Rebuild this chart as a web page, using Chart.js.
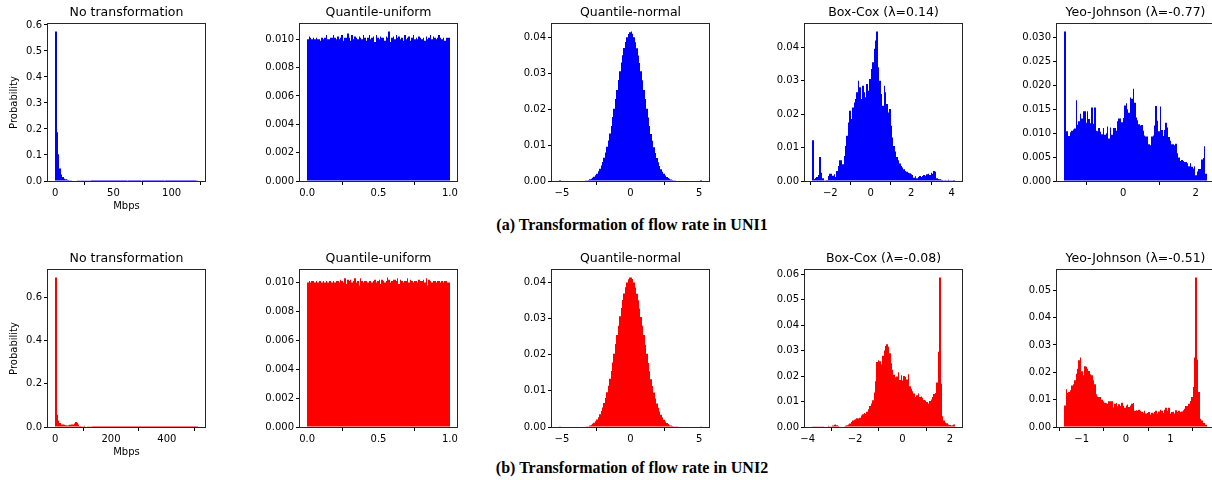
<!DOCTYPE html>
<html>
<head>
<meta charset="utf-8">
<script src="https://cdn.jsdelivr.net/npm/chart.js@4.4.0/dist/chart.umd.min.js"></script>
<style>
  html, body { margin: 0; padding: 0; background: #fff; width: 1212px; height: 480px; overflow: hidden; position: relative; }
  canvas { position: absolute; }
  .cap { position: absolute; left: 26px; width: 1212px; text-align: center; color: #000; line-height: 18px;
         font: bold 16px "Liberation Serif", "Times New Roman", serif; }
</style>
</head>
<body>
<div class="cap" style="top:216px">(a) Transformation of flow rate in UNI1</div>
<div class="cap" style="top:459px">(b) Transformation of flow rate in UNI2</div>
<script>
// histogram bin ranges [first edge, last edge], 100 bins each
const uni1RawRange = [0, 122.5];
const uni1UniformRange = [0, 1];
const uni1NormalRange = [-5.2, 5.2];
const uni1BoxCoxRange = [-2.90, 4.16];
const uni1YeoRange = [-1.63, 2.31];
const uni2RawRange = [0, 511];
const uni2UniformRange = [0, 1];
const uni2NormalRange = [-5.2, 5.2];
const uni2BoxCoxRange = [-3.81, 2.21];
const uni2YeoRange = [-1.395, 1.823];

// probabilities per bin
const uni1Raw = [
  0.575,0.187,0.103,0.048,0.025,0.015,0.009,0.007,0.005,0.004,
  0.0032,0.0027,0.0022,0.0018,0.0015,0.0013,0.0011,0.0010,0.0009,0.0008,
  0.0007,0.0006,0.0006,0.0005,0.0005,0.0004,0.0004,0.0004,0.0003,0.0003,
  0.0003,0.0003,0.0003,0.0002,0.0002,0.0002,0.0002,0.0002,0.0002,0.0002,
  0.0002,0.0002,0.0002,0.0002,0.0002,0.0002,0.0003,0.0004,0.0003,0.0002,
  0.0006,0.0003,0.0002,0.0002,0.0002,0.0002,0.0002,0.0002,0.0002,0.0002,
  0.0007,0.0003,0.0002,0.0002,0.0002,0.0002,0.0002,0.0002,0.0002,0.0002,
  0.0002,0.0002,0.0002,0.0002,0.0002,0.0002,0.0006,0.0002,0.0002,0.0002,
  0.0002,0.0002,0.0002,0.0002,0.0002,0.0002,0.0002,0.0002,0.0002,0.0002,
  0.0002,0.0002,0.0002,0.0002,0.0002,0.0002,0.0002,0.0002,0.0002,0.0008
];
const uni1Uniform = [
  0.0100,0.0102,0.0101,0.0100,0.0101,0.0100,0.0101,0.0100,0.0100,0.0099,
  0.0101,0.0100,0.0101,0.0103,0.0100,0.0100,0.0101,0.0101,0.0103,0.0101,
  0.0100,0.0102,0.0100,0.0101,0.0103,0.0099,0.0101,0.0101,0.0104,0.0101,
  0.0099,0.0103,0.0100,0.0102,0.0101,0.0100,0.0102,0.0101,0.0100,0.0103,
  0.0101,0.0099,0.0101,0.0103,0.0100,0.0101,0.0102,0.0098,0.0103,0.0101,
  0.0100,0.0102,0.0101,0.0101,0.0099,0.0102,0.0101,0.01055,0.0098,0.0101,
  0.0102,0.0100,0.0103,0.0101,0.0102,0.0100,0.0101,0.0099,0.0103,0.0100,
  0.0101,0.0102,0.0099,0.0101,0.0103,0.0100,0.0101,0.0100,0.0102,0.0101,
  0.0100,0.0101,0.0099,0.0102,0.0100,0.0101,0.0103,0.0100,0.0102,0.0101,
  0.0100,0.0101,0.0103,0.0101,0.0100,0.0101,0.0099,0.0101,0.0101,0.0101
];
const uni1Normal = [
  0.0003,0,0,0,0,0,0,0,0,0,
  0,0,0,0,0,0,0,0,0.0001,0.0002,
  0.0003,0.0005,0.0006,0.0009,0.0012,0.0016,0.0020,0.0027,0.0034,0.0043,
  0.0053,0.0065,0.0079,0.0095,0.0113,0.0132,0.0153,0.0178,0.0201,0.0228,
  0.0253,0.0281,0.0305,0.0330,0.0350,0.0370,0.0387,0.0400,0.0409,0.0414,
  0.0416,0.0410,0.0400,0.0386,0.0369,0.0349,0.0328,0.0305,0.0280,0.0253,
  0.0228,0.0201,0.0177,0.0153,0.0131,0.0112,0.0094,0.0078,0.0064,0.0052,
  0.0042,0.0033,0.0026,0.0020,0.0015,0.0011,0.0008,0.0006,0.0004,0.0003,
  0.0002,0.0001,0,0,0,0,0,0,0,0,
  0,0,0,0,0,0,0,0,0,0.0003
];
const uni1BoxCox = [
  0.0122,0.0006,0.0009,0.0012,0.0018,0.0072,0.0025,0.0008,0.0002,0.0001,
  0.0003,0.0015,0.0022,0.0022,0.0016,0.0020,0.0012,0.0030,0.0045,0.0062,
  0.0062,0.0050,0.0075,0.0105,0.0135,0.0175,0.0210,0.0185,0.0220,0.0235,
  0.0245,0.0265,0.0300,0.0280,0.0245,0.0285,0.0265,0.0250,0.0290,0.0270,
  0.0305,0.0335,0.0355,0.0395,0.0420,0.0447,0.0340,0.0300,0.0260,0.0225,
  0.0285,0.0265,0.0230,0.0205,0.0215,0.0165,0.0130,0.0105,0.0088,0.0072,
  0.0062,0.0052,0.0045,0.0040,0.0035,0.0030,0.0028,0.0025,0.0023,0.0020,
  0.0018,0.0010,0.0014,0.0008,0.0012,0.0015,0.0012,0.0015,0.0018,0.0016,
  0.0020,0.0022,0.0018,0.0025,0.0022,0.0030,0.0028,0.0008,0.0006,0.0005,
  0.0004,0.0003,0.0002,0.0003,0.0002,0.0004,0.0002,0.0001,0.0002,0.0003
];
const uni1Yeo = [
  0.0313,0.0104,0.0104,0.0094,0.0102,0.0105,0.0108,0.0110,0.0169,0.0118,
  0.0125,0.0141,0.0131,0.0146,0.0146,0.0122,0.0146,0.0130,0.0121,0.0154,
  0.0120,0.0154,0.0105,0.0104,0.0111,0.0103,0.0098,0.0111,0.0097,0.0100,
  0.0114,0.0089,0.0112,0.0097,0.0111,0.0111,0.0105,0.0125,0.0131,0.0131,
  0.0123,0.0132,0.0158,0.0163,0.0150,0.0143,0.0175,0.0172,0.0193,0.0164,
  0.0133,0.0127,0.0119,0.0116,0.0117,0.0105,0.0095,0.0093,0.0093,0.0077,
  0.0075,0.0093,0.0095,0.0116,0.0157,0.0126,0.0104,0.0156,0.0107,0.0094,
  0.0107,0.0122,0.0112,0.0092,0.0084,0.0077,0.0077,0.0075,0.0078,0.0058,
  0.0049,0.0042,0.0044,0.0042,0.0040,0.0040,0.0037,0.0031,0.0037,0.0030,
  0.0026,0.0031,0.0012,0.0020,0.0025,0.0025,0.0045,0.0048,0.0073,0.0015
];
const uni2Raw = [
  0.692,0.057,0.030,0.018,0.012,0.011,0.010,0.008,0.007,0.008,
  0.010,0.011,0.011,0.016,0.023,0.020,0.012,0.005,0.003,0.003,
  0.006,0.002,0.001,0.001,0.0008,0.0006,0.0005,0.0004,0.0004,0.0003,
  0.0003,0.0003,0.0002,0.0002,0.0002,0.0002,0.0002,0.0002,0.0001,0.0001,
  0.0001,0.0001,0.0001,0.0001,0.0001,0.0001,0.0001,0.0001,0.0001,0.0001,
  0.0001,0.0001,0.0001,0.0001,0.0001,0.0001,0.0001,0.0001,0.0001,0.0001,
  0.0001,0.0001,0.0001,0.0001,0.0001,0.0001,0.0001,0.0001,0.0001,0.0001,
  0.0001,0.0001,0.0001,0.0001,0.0001,0.0001,0.0001,0.0001,0.0001,0.0001,
  0.0001,0.0001,0.0001,0.0001,0.0001,0.0001,0.0001,0.0001,0.0001,0.0001,
  0.0001,0.0001,0.0001,0.0001,0.0001,0.0001,0.0001,0.0001,0.0001,0.0002
];
const uni2Uniform = [
  0.0100,0.0101,0.0100,0.0101,0.0101,0.0100,0.0101,0.0100,0.0101,0.0101,
  0.0100,0.0101,0.0100,0.0101,0.0100,0.0101,0.0101,0.0100,0.0101,0.0100,
  0.0101,0.0101,0.0100,0.0102,0.0101,0.0100,0.0103,0.0099,0.0102,0.0101,
  0.0102,0.0100,0.0101,0.0103,0.0100,0.0101,0.0098,0.0103,0.0101,0.0100,
  0.0101,0.0101,0.0100,0.0101,0.0101,0.0100,0.0101,0.0102,0.0100,0.0101,
  0.0102,0.0099,0.0102,0.0101,0.0100,0.0101,0.01035,0.0102,0.0100,0.0101,
  0.0102,0.0102,0.0101,0.0103,0.0099,0.0102,0.0101,0.0100,0.0101,0.0101,
  0.0103,0.0100,0.0102,0.0101,0.0100,0.0101,0.0101,0.0100,0.0102,0.0101,
  0.0101,0.0102,0.0100,0.0103,0.0098,0.0102,0.0101,0.0100,0.0101,0.0101,
  0.0100,0.0101,0.0101,0.0100,0.0101,0.0100,0.0101,0.0101,0.0100,0.0100
];
const uni2Normal = [
  0.0001,0,0,0,0,0,0,0,0,0,
  0,0,0,0,0,0,0,0,0,0.0001,
  0.0002,0.0004,0.0006,0.0009,0.0012,0.0016,0.0021,0.0027,0.0035,0.0044,
  0.0054,0.0066,0.0080,0.0096,0.0114,0.0133,0.0155,0.0178,0.0202,0.0229,
  0.0254,0.0280,0.0306,0.0329,0.0351,0.0369,0.0386,0.0399,0.0408,0.0413,
  0.0413,0.0409,0.0399,0.0385,0.0368,0.0350,0.0327,0.0304,0.0280,0.0254,
  0.0227,0.0202,0.0177,0.0154,0.0132,0.0113,0.0095,0.0079,0.0065,0.0053,
  0.0043,0.0034,0.0026,0.0020,0.0015,0.0011,0.0008,0.0005,0.0004,0.0003,
  0.0002,0.0001,0.0001,0,0,0,0,0,0,0,
  0,0,0,0,0,0,0,0,0,0.0001
];
const uni2BoxCox = [
  0.0001,0.0001,0.0001,0.0001,0.0001,0.0001,0.0001,0.0001,0.0002,0.0002,
  0.0002,0.0005,0.0003,0.0003,0.0006,0.0009,0.0010,0.0007,0.0004,0.0002,
  0.0002,0.0002,0.0003,0.0005,0.0007,0.0010,0.0014,0.0020,0.0026,0.0028,
  0.0030,0.0034,0.0033,0.0036,0.0045,0.0050,0.0055,0.0052,0.0060,0.0070,
  0.0082,0.0092,0.0105,0.0135,0.0180,0.0255,0.0262,0.0258,0.0245,0.0280,
  0.0300,0.0318,0.0325,0.0315,0.0290,0.0250,0.0225,0.0205,0.0195,0.0198,
  0.0215,0.0185,0.0203,0.0183,0.0200,0.0196,0.0186,0.0207,0.0160,0.0150,
  0.0140,0.0132,0.0118,0.0125,0.0132,0.0118,0.0120,0.0115,0.0106,0.0104,
  0.0098,0.0092,0.0102,0.0108,0.0118,0.0130,0.0133,0.0175,0.0295,0.0587,
  0.0170,0.0042,0.0026,0.0018,0.0015,0.0010,0.0008,0.0006,0.0007,0.0010
];
const uni2Yeo = [
  0.0079,0.0138,0.0124,0.0128,0.0134,0.0152,0.0156,0.0171,0.0195,0.0213,
  0.0244,0.0254,0.0204,0.0189,0.0222,0.0220,0.0213,0.0205,0.0193,0.0189,
  0.0171,0.0156,0.0120,0.0112,0.0110,0.0110,0.0100,0.0094,0.0089,0.0087,
  0.0085,0.0094,0.0094,0.0094,0.0071,0.0085,0.0088,0.0076,0.0083,0.0077,
  0.0089,0.0078,0.0070,0.0079,0.0082,0.0073,0.0079,0.0085,0.0088,0.0059,
  0.0061,0.0059,0.0063,0.0059,0.0056,0.0052,0.0059,0.0049,0.0051,0.0055,
  0.0046,0.0052,0.0049,0.0055,0.0059,0.0049,0.0057,0.0063,0.0059,0.0051,
  0.0063,0.0070,0.0059,0.0070,0.0049,0.0055,0.0056,0.0049,0.0061,0.0055,
  0.0059,0.0055,0.0057,0.0061,0.0067,0.0077,0.0077,0.0085,0.0095,0.0110,
  0.0146,0.0254,0.0547,0.0246,0.0128,0.0030,0.0024,0.0015,0.0015,0.0008
];

// tick values
const rawTicks1 = [0, 50, 100];
const rawTicks2 = [0, 200, 400];
const unitTicks = [0, 0.5, 1];
const normalTicks = [-5, 0, 5];
const boxCoxTicks1 = [-2, 0, 2, 4];
const yeoTicks1 = [0, 2];
const boxCoxTicks2 = [-4, -2, 0, 2];
const yeoTicks2 = [-1, 0, 1];
const probTicks1 = [0, 0.1, 0.2, 0.3, 0.4, 0.5, 0.6];
const probTicks2 = [0, 0.2, 0.4, 0.6];
const uniformProbTicks = [0, 0.002, 0.004, 0.006, 0.008, 0.010];
const hundredthTicks4 = [0, 0.01, 0.02, 0.03, 0.04];
const hundredthTicks5 = [0, 0.01, 0.02, 0.03, 0.04, 0.05];
const hundredthTicks6 = [0, 0.01, 0.02, 0.03, 0.04, 0.05, 0.06];
const yeoProbTicks = [0, 0.005, 0.010, 0.015, 0.020, 0.025, 0.030];

const FONT = 'DejaVu Sans';
const BLUE = '#0000ff';
const RED = '#ff0000';
const colLeft = [48, 300, 552, 805, 1057];
const rowTop = [24, 270];
const AX = 157, YW = 56, XH = 36, TH = 23, PADR = 14;

const panels = [
  { row: 0, col: 0, title: 'No transformation', range: uni1RawRange, values: uni1Raw, color: BLUE, xt: rawTicks1, xd: 0, yt: probTicks1, yd: 1, xLabel: 'Mbps', yLabel: 'Probability' },
  { row: 0, col: 1, title: 'Quantile-uniform', range: uni1UniformRange, values: uni1Uniform, color: BLUE, xt: unitTicks, xd: 1, yt: uniformProbTicks, yd: 3 },
  { row: 0, col: 2, title: 'Quantile-normal', range: uni1NormalRange, values: uni1Normal, color: BLUE, xt: normalTicks, xd: 0, yt: hundredthTicks4, yd: 2 },
  { row: 0, col: 3, title: 'Box-Cox (λ=0.14)', range: uni1BoxCoxRange, values: uni1BoxCox, color: BLUE, xt: boxCoxTicks1, xd: 0, yt: hundredthTicks4, yd: 2 },
  { row: 0, col: 4, title: 'Yeo-Johnson (λ=-0.77)', range: uni1YeoRange, values: uni1Yeo, color: BLUE, xt: yeoTicks1, xd: 0, yt: yeoProbTicks, yd: 3 },
  { row: 1, col: 0, title: 'No transformation', range: uni2RawRange, values: uni2Raw, color: RED, xt: rawTicks2, xd: 0, yt: probTicks2, yd: 1, xLabel: 'Mbps', yLabel: 'Probability' },
  { row: 1, col: 1, title: 'Quantile-uniform', range: uni2UniformRange, values: uni2Uniform, color: RED, xt: unitTicks, xd: 1, yt: uniformProbTicks, yd: 3 },
  { row: 1, col: 2, title: 'Quantile-normal', range: uni2NormalRange, values: uni2Normal, color: RED, xt: normalTicks, xd: 0, yt: hundredthTicks4, yd: 2 },
  { row: 1, col: 3, title: 'Box-Cox (λ=-0.08)', range: uni2BoxCoxRange, values: uni2BoxCox, color: RED, xt: boxCoxTicks2, xd: 0, yt: hundredthTicks6, yd: 2 },
  { row: 1, col: 4, title: 'Yeo-Johnson (λ=-0.51)', range: uni2YeoRange, values: uni2Yeo, color: RED, xt: yeoTicks2, xd: 0, yt: hundredthTicks5, yd: 2 }
];

function fmt(v, d) {
  const s = Math.abs(v).toFixed(d);
  return v < 0 ? '\u2212' + s : s;
}

// matplotlib style box around the axes
const framePlugin = {
  id: 'frame',
  afterDraw(chart) {
    const a = chart.chartArea, ctx = chart.ctx;
    ctx.save();
    ctx.strokeStyle = '#262626';
    ctx.lineWidth = 1;
    ctx.strokeRect(a.left - 0.5, a.top - 0.5, a.right - a.left + 1, a.bottom - a.top + 1);
    ctx.restore();
  }
};

// snap bar edges to whole pixels; each bar ends where the next one starts
const snapPlugin = {
  id: 'snapBars',
  beforeDatasetsDraw(chart) {
    const bars = chart.getDatasetMeta(0).data;
    const lefts = bars.map(el => Math.round(el.x - el.width / 2));
    const lastRight = Math.round(bars[bars.length - 1].x + bars[bars.length - 1].width / 2);
    bars.forEach((el, i) => {
      const l = lefts[i];
      const r = i < bars.length - 1 ? lefts[i + 1] : lastRight;
      el.x = (l + r) / 2;
      el.width = Math.max(r - l, 1);
    });
  }
};

const tickFont = { family: FONT, size: 10 };

panels.forEach(p => {
  const cv = document.createElement('canvas');
  cv.width = YW + AX + PADR;
  cv.height = TH + AX + XH;
  cv.style.left = (colLeft[p.col] - YW) + 'px';
  cv.style.top = (rowTop[p.row] - TH) + 'px';
  document.body.appendChild(cv);

  const [lo, hi] = p.range;
  const n = p.values.length;
  const w = (hi - lo) / n;
  const pts = p.values.map((v, i) => ({ x: lo + (i + 0.5) * w, y: v }));
  const span = hi - lo;
  const ymax = Math.max(...p.values) * 1.05;

  new Chart(cv, {
    type: 'bar',
    data: {
      datasets: [{
        data: pts,
        backgroundColor: p.color,
        borderWidth: 0,
        inflateAmount: 0,
        barPercentage: 1,
        categoryPercentage: 1,
        grouped: false
      }]
    },
    options: {
      responsive: false,
      animation: false,
      devicePixelRatio: 1,
      layout: { padding: { left: 0, right: PADR, top: 0, bottom: 0 } },
      plugins: {
        legend: { display: false },
        tooltip: { enabled: false },
        title: {
          display: true,
          fullSize: false,
          text: p.title,
          color: '#000',
          font: { family: FONT, size: 12.5, weight: 'normal' },
          padding: { top: 4, bottom: 4 }
        }
      },
      scales: {
        x: {
          type: 'linear',
          offset: false,
          bounds: 'data',
          min: lo - 0.05 * span,
          max: hi + 0.05 * span,
          grid: { drawOnChartArea: false, drawTicks: true, tickLength: 4, color: '#000' },
          border: { display: false },
          ticks: { color: '#000', font: tickFont, padding: 2, maxRotation: 0, autoSkip: false,
                   callback: v => fmt(v, p.xd) },
          afterBuildTicks: s => { s.ticks = p.xt.map(v => ({ value: v })); },
          afterFit: s => { s.height = XH; },
          title: { display: !!p.xLabel, text: p.xLabel || '', color: '#000', font: tickFont,
                   padding: { top: 0, bottom: 5 } }
        },
        y: {
          type: 'linear',
          bounds: 'data',
          min: 0,
          max: ymax,
          grid: { drawOnChartArea: false, drawTicks: true, tickLength: 4, color: '#000' },
          border: { display: false },
          ticks: { color: '#000', font: tickFont, padding: 2, autoSkip: false,
                   callback: v => fmt(v, p.yd) },
          afterBuildTicks: s => { s.ticks = p.yt.map(v => ({ value: v })); },
          afterFit: s => { s.width = YW; },
          title: { display: !!p.yLabel, text: p.yLabel || '', color: '#000', font: tickFont,
                   padding: { top: 16, bottom: 0 } }
        }
      }
    },
    plugins: [snapPlugin, framePlugin]
  });
});
</script>
</body>
</html>
